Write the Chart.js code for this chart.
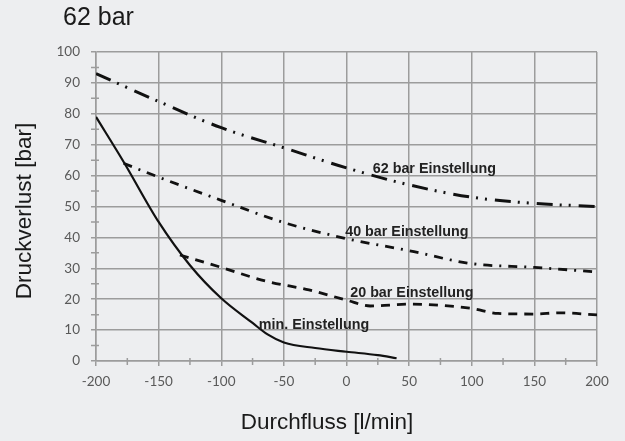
<!DOCTYPE html>
<html>
<head>
<meta charset="utf-8">
<script src="https://cdn.jsdelivr.net/npm/chart.js@4"></script>
<style>
  html, body { margin: 0; padding: 0; background: #edeef0; }
  #wrap { width: 625px; height: 441px; position: relative; }
</style>
</head>
<body>
<div id="wrap"><canvas id="lossChart"></canvas></div>
<script>
// Durchfluss [l/min] -> Druckverlust [bar]
const flow62 = [-200, -150, -100, -50, 0, 50, 100, 150, 200];
const loss62 = [93, 84, 75.5, 69, 62.5, 57, 53, 51, 50];

const flow40 = [-178, -150, -100, -50, 0, 50, 100, 150, 200];
const loss40 = [64, 59.5, 52, 44.8, 39.6, 35.7, 31.5, 30.3, 28.8];

const flow20 = [-133, -100, -64, -30, 0, 19, 50, 100, 121, 150, 170, 200];
const loss20 = [34.3, 30.3, 25.8, 23, 19.7, 17.8, 18.4, 17, 15.4, 15.2, 15.6, 14.9];

const flowMin = [-200, -178, -150, -125, -100, -75, -63, -50, -25, 0, 25, 40];
const lossMin = [79, 64.5, 45, 31, 20.3, 12.3, 8.6, 6.0, 4.2, 3, 1.9, 0.9];

const seriesNames = ['62 bar Einstellung', '40 bar Einstellung', '20 bar Einstellung', 'min. Einstellung'];
// where each curve label sits, in data units (left edge, vertical middle)
const labelFlow = [21, -1, 3, -70];
const labelLoss = [62.1, 41.7, 22.0, 11.6];

const xTicks = [-200, -150, -100, -50, 0, 50, 100, 150, 200];
const yTicks = [0, 10, 20, 30, 40, 50, 60, 70, 80, 90, 100];

const gridColor = '#9c9c9c';
const ink = '#1a1a1a';

const pts = (xs, ys) => xs.map((x, i) => ({ x: x, y: ys[i] }));

const extras = {
    id: 'extras',
    afterDatasetsDraw(chart) {
        const ctx = chart.ctx;
        const xs = chart.scales.x, ys = chart.scales.y;
        const a = chart.chartArea;
        ctx.save();
        // minor ticks
        ctx.strokeStyle = gridColor;
        ctx.lineWidth = 1.5;
        ctx.beginPath();
        for (let v = 5; v < 100; v += 10) {
            const py = ys.getPixelForValue(v);
            ctx.moveTo(a.left - 5, py);
            ctx.lineTo(a.left + 3, py);
        }
        for (let v = -175; v < 200; v += 50) {
            const px = xs.getPixelForValue(v);
            ctx.moveTo(px, a.bottom - 3);
            ctx.lineTo(px, a.bottom + 4);
        }
        ctx.stroke();

        // curve labels
        ctx.fillStyle = '#222';
        ctx.font = 'bold 14.3px "Liberation Sans", Arial, sans-serif';
        ctx.textAlign = 'left';
        ctx.textBaseline = 'middle';
        seriesNames.forEach((name, i) => {
            ctx.fillText(name, xs.getPixelForValue(labelFlow[i]), ys.getPixelForValue(labelLoss[i]));
        });

        // titles
        ctx.fillStyle = ink;
        ctx.font = '25px "Liberation Sans", Arial, sans-serif';
        ctx.textBaseline = 'alphabetic';
        ctx.fillText('62 bar', 63, 25);

        ctx.font = '22.5px "Liberation Sans", Arial, sans-serif';
        ctx.textAlign = 'center';
        ctx.textBaseline = 'middle';
        ctx.fillText('Durchfluss [l/min]', 327, 423);

        ctx.translate(25, 211);
        ctx.rotate(-Math.PI / 2);
        ctx.fillText('Druckverlust [bar]', 0, 0);
        ctx.restore();
    }
};

const ctx = document.getElementById('lossChart').getContext('2d');
new Chart(ctx, {
    type: 'line',
    data: {
        datasets: [
            {
                label: seriesNames[0],
                data: pts(flow62, loss62),
                borderColor: '#111',
                borderWidth: 3,
                borderDash: [16, 7, 2, 7, 2, 8]
            },
            {
                label: seriesNames[1],
                data: pts(flow40, loss40),
                borderColor: '#111',
                borderWidth: 2.8,
                borderDash: [9, 7, 2, 7]
            },
            {
                label: seriesNames[2],
                data: pts(flow20, loss20),
                borderColor: '#111',
                borderWidth: 2.8,
                borderDash: [9, 7]
            },
            {
                label: seriesNames[3],
                data: pts(flowMin, lossMin),
                borderColor: '#111',
                borderWidth: 2.2
            }
        ]
    },
    options: {
        responsive: true,
        maintainAspectRatio: false,
        animation: false,
        events: [],
        cubicInterpolationMode: 'monotone',
        elements: { point: { radius: 0 }, line: { fill: false } },
        layout: { padding: { top: 52, right: 28, left: 0, bottom: 0 } },
        plugins: { legend: { display: false }, tooltip: { enabled: false }, title: { display: false } },
        scales: {
            x: {
                type: 'linear',
                min: -200,
                max: 200,
                afterFit: s => { s.height = 80; },
                afterBuildTicks: s => { s.ticks = xTicks.map(v => ({ value: v })); },
                grid: { color: gridColor, lineWidth: 1.5, tickLength: 5 },
                border: { color: gridColor, width: 1.5 },
                ticks: {
                    color: '#595959',
                    font: { family: 'Lato', size: 13.5 },
                    padding: 8,
                    maxRotation: 0
                }
            },
            y: {
                min: 0,
                max: 100,
                afterFit: s => { s.width = 96; },
                afterBuildTicks: s => { s.ticks = yTicks.map(v => ({ value: v })); },
                grid: { color: gridColor, lineWidth: 1.5, tickLength: 5 },
                border: { color: gridColor, width: 1.5 },
                ticks: {
                    color: '#595959',
                    font: { family: 'Lato', size: 13.5 },
                    padding: 11
                }
            }
        }
    },
    plugins: [extras]
});
</script>
</body>
</html>
